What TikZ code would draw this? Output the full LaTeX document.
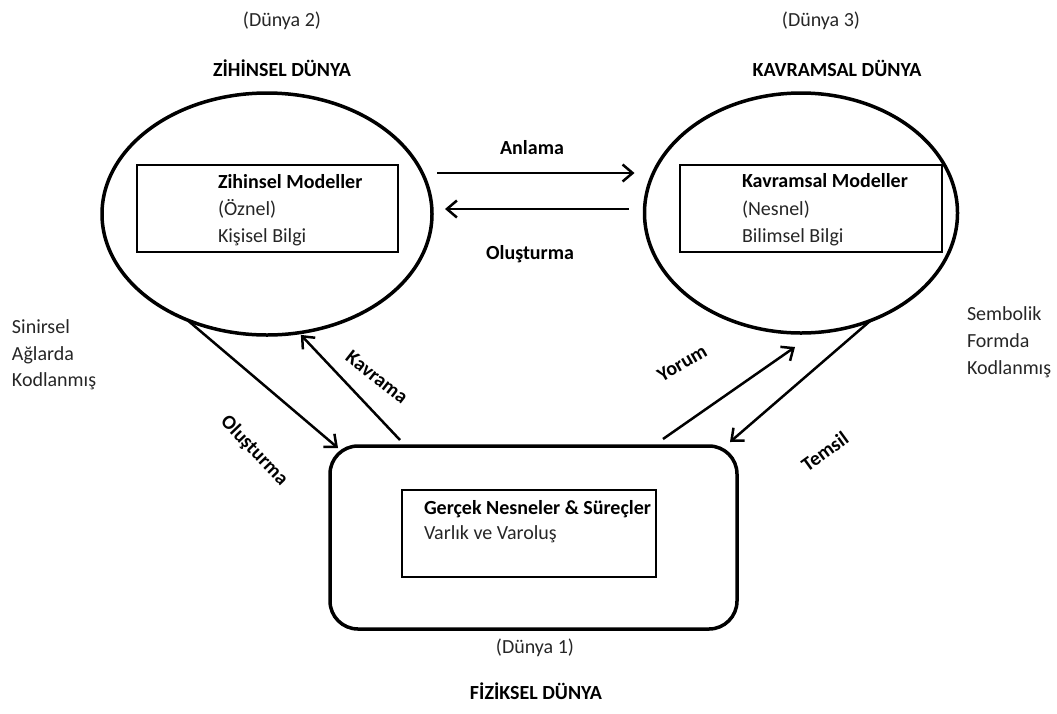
\documentclass[tikz,border=0pt]{standalone}
\usepackage{fontspec}
\setmainfont{Carlito}
\usetikzlibrary{arrows.meta,shapes.geometric}
\begin{document}
\begin{tikzpicture}[x=1pt,y=-1pt,
  txt/.style={inner sep=0pt,outer sep=0pt,text height=13pt,text depth=0pt,
    font=\fontsize{20}{24}\selectfont,text=black!85},
  btxt/.style={txt,font=\fontsize{20}{24}\selectfont\bfseries,text=black},
  world/.style={draw,ellipse,line width=3.5pt,inner sep=0pt,outer sep=0pt},
  panel/.style={draw,line width=2.5pt,inner sep=0pt,outer sep=0pt},
  realm/.style={draw,line width=3.5pt,rounded corners=28pt,inner sep=0pt,outer sep=0pt},
  arr/.style={line width=2.5pt,-{Straight Barb[length=10pt,width=17pt]}}
]
\useasboundingbox (0,0) rectangle (1057,713);

% the three worlds
\node[world,minimum width=330pt,minimum height=242pt] (mind) at (267,214) {};
\node[world,minimum width=313pt,minimum height=240pt] (concept) at (801,213) {};
\node[realm,minimum width=407pt,minimum height=183pt] (phys) at (533.5,537.5) {};

% inner panels
\node[panel,minimum width=261pt,minimum height=87pt] (mindbox) at (267.5,208.5) {};
\node[panel,minimum width=262pt,minimum height=87pt] (conceptbox) at (811,208.5) {};
\node[panel,minimum width=254pt,minimum height=87pt] (physbox) at (529,533.5) {};

% panel texts
\node[btxt,anchor=west] (m1) at (218,182) {Zihinsel Modeller};
\node[txt,anchor=west] (m2) at (218,209) {(Öznel)};
\node[txt,anchor=west] (m3) at (218,236) {Kişisel Bilgi};
\node[btxt,anchor=west] (c1) at (742,181) {Kavramsal Modeller};
\node[txt,anchor=west] (c2) at (742,209) {(Nesnel)};
\node[txt,anchor=west] (c3) at (742,236) {Bilimsel Bilgi};
\node[btxt,anchor=west] (p1) at (424,508) {Gerçek Nesneler \& Süreçler};
\node[txt,anchor=west] (p2) at (424,533) {Varlık ve Varoluş};

% titles
\node[txt] (t2a) at (282,20) {(Dünya 2)};
\node[btxt] (t2b) at (282,70) {ZİHİNSEL DÜNYA};
\node[txt] (t3a) at (821,20) {(Dünya 3)};
\node[btxt] (t3b) at (837,70) {KAVRAMSAL DÜNYA};
\node[txt] (t1a) at (535,647) {(Dünya 1)};
\node[btxt] (t1b) at (536,693) {FİZİKSEL DÜNYA};

% side notes
\node[txt,anchor=west] (l1) at (12,327) {Sinirsel};
\node[txt,anchor=west] (l2) at (12,354) {Ağlarda};
\node[txt,anchor=west] (l3) at (12,380) {Kodlanmış};
\node[txt,anchor=west] (r1) at (967,314) {Sembolik};
\node[txt,anchor=west] (r2) at (967,341) {Formda};
\node[txt,anchor=west] (r3) at (967,368) {Kodlanmış};

% connectors between the worlds
\draw[arr] ([shift={(5,-41)}]mind.east) -- ([shift={(-10,-40)}]concept.west);
\draw[arr] ([shift={(-16,-4)}]concept.west) -- ([shift={(13,-5)}]mind.east);
\draw[arr] (mind.233) -- ([shift={(8,2)}]phys.north west);
\draw[arr,shorten >=3pt] ([shift={(70,-6)}]phys.north west) -- (mind.285);
\draw[arr] ([shift={(-74,-7)}]phys.north east) -- ([shift={(-6,14)}]concept.south);
\draw[arr] (concept.303) -- ([shift={(-7,-4)}]phys.north east);

% connector labels
\node[btxt] (la) at (532,148) {Anlama};
\node[btxt] (lo) at (530,253) {Oluşturma};
\node[btxt,rotate=-38] (lk) at (377,377) {Kavrama};
\node[btxt,rotate=-46] (lo2) at (255,450) {Oluşturma};
\node[btxt,rotate=30] (ly) at (682,363) {Yorum};
\node[btxt,rotate=36] (lt) at (825,452) {Temsil};
\end{tikzpicture}
\end{document}
